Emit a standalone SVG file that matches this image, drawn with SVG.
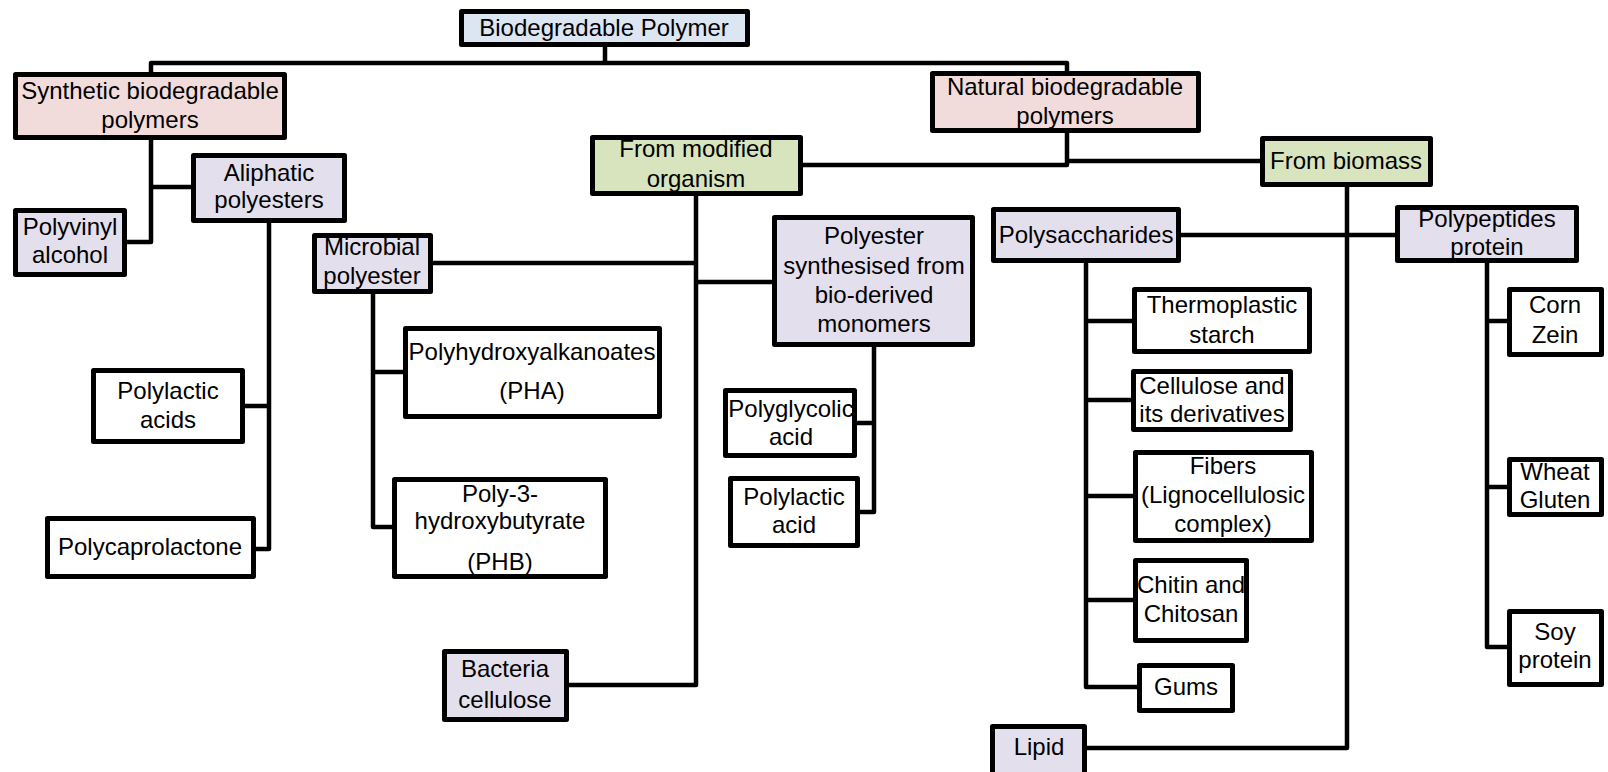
<svg xmlns="http://www.w3.org/2000/svg" width="1608" height="772" viewBox="0 0 1608 772">
<style>
.box{stroke:#000;stroke-width:5;stroke-linejoin:round}
.blue{fill:#dce6f2}.pink{fill:#f2dcdb}.green{fill:#d7e4bd}.lav{fill:#e4dfec}.white{fill:#fff}
text{font-family:"Liberation Sans",Arial,sans-serif;font-size:24px;fill:#000;text-anchor:middle}
.conn{fill:none;stroke:#000;stroke-width:4.5;stroke-linejoin:round;stroke-linecap:square}
</style>
<rect width="1608" height="772" fill="#fff"/>
<g id="connectors" class="conn">
<path d="M151,72 V63 H1067 V71 M605,47 V63"/>
<path d="M151,140 V242 H127 M151,187 H191"/>
<path d="M269,223 V549 H256 M269,406 H245"/>
<path d="M696,196 V685 H569 M696,263 H433 M696,282 H772"/>
<path d="M803,165 H1067 V133 M1067,161 H1260"/>
<path d="M373,294 V527 H392 M373,372 H403"/>
<path d="M874,347 V512 H860 M874,423 H857"/>
<path d="M1347,187 V748 H1087"/>
<path d="M1181,235 H1395"/>
<path d="M1086,263 V687 H1137 M1086,321 H1132 M1086,400 H1131 M1086,496 H1133 M1086,600 H1133"/>
<path d="M1487,263 V647 H1507 M1487,321 H1507 M1487,487 H1507"/>
</g>
<g id="n-biodegradable"><rect class="box blue" x="461.5" y="11.5" width="286" height="33"/><text x="604" y="36">Biodegradable Polymer</text></g>
<g id="n-synthetic"><rect class="box pink" x="15.5" y="74.5" width="269" height="63"/><text x="150" y="99">Synthetic biodegradable</text><text x="150" y="128">polymers</text></g>
<g id="n-natural"><rect class="box pink" x="932.5" y="73.5" width="266" height="57"/><text x="1065" y="95">Natural biodegradable</text><text x="1065" y="124">polymers</text></g>
<g id="n-modified"><rect class="box green" x="592.5" y="137.5" width="208" height="56"/><text x="696" y="157">From modified</text><text x="696" y="187">organism</text></g>
<g id="n-biomass"><rect class="box green" x="1262.5" y="138.5" width="168" height="46"/><text x="1346" y="169">From biomass</text></g>
<g id="n-aliphatic"><rect class="box lav" x="193.5" y="155.5" width="151" height="65"/><text x="269" y="181">Aliphatic</text><text x="269" y="208">polyesters</text></g>
<g id="n-polyvinyl"><rect class="box lav" x="15.5" y="210.5" width="109" height="64"/><text x="70" y="235">Polyvinyl</text><text x="70" y="263">alcohol</text></g>
<g id="n-microbial"><rect class="box lav" x="314.5" y="235.5" width="116" height="56"/><text x="372" y="255">Microbial</text><text x="372" y="284">polyester</text></g>
<g id="n-polyester-bio"><rect class="box lav" x="774.5" y="217.5" width="198" height="127"/><text x="874" y="244">Polyester</text><text x="874" y="274">synthesised from</text><text x="874" y="303">bio-derived</text><text x="874" y="332">monomers</text></g>
<g id="n-polysaccharides"><rect class="box lav" x="993.5" y="209.5" width="185" height="51"/><text x="1086" y="243">Polysaccharides</text></g>
<g id="n-polypeptides"><rect class="box lav" x="1397.5" y="207.5" width="179" height="53"/><text x="1487" y="227">Polypeptides</text><text x="1487" y="255">protein</text></g>
<g id="n-pha"><rect class="box white" x="405.5" y="328.5" width="254" height="88"/><text x="532" y="360">Polyhydroxyalkanoates</text><text x="532" y="399">(PHA)</text></g>
<g id="n-phb"><rect class="box white" x="394.5" y="479.5" width="211" height="97"/><text x="500" y="502">Poly-3-</text><text x="500" y="529">hydroxybutyrate</text><text x="500" y="570">(PHB)</text></g>
<g id="n-polylactic-acids"><rect class="box white" x="93.5" y="370.5" width="149" height="71"/><text x="168" y="399">Polylactic</text><text x="168" y="428">acids</text></g>
<g id="n-polycaprolactone"><rect class="box white" x="47.5" y="518.5" width="206" height="58"/><text x="150" y="555">Polycaprolactone</text></g>
<g id="n-polyglycolic"><rect class="box white" x="725.5" y="390.5" width="129" height="65"/><text x="791" y="417">Polyglycolic</text><text x="791" y="445">acid</text></g>
<g id="n-polylactic-acid"><rect class="box white" x="730.5" y="478.5" width="127" height="67"/><text x="794" y="505">Polylactic</text><text x="794" y="533">acid</text></g>
<g id="n-bacteria"><rect class="box lav" x="444.5" y="651.5" width="122" height="68"/><text x="505" y="677">Bacteria</text><text x="505" y="708">cellulose</text></g>
<g id="n-thermoplastic"><rect class="box white" x="1134.5" y="289.5" width="175" height="62"/><text x="1222" y="313">Thermoplastic</text><text x="1222" y="343">starch</text></g>
<g id="n-cellulose"><rect class="box white" x="1133.5" y="371.5" width="157" height="58"/><text x="1212" y="394">Cellulose and</text><text x="1212" y="422">its derivatives</text></g>
<g id="n-fibers"><rect class="box white" x="1135.5" y="452.5" width="176" height="88"/><text x="1223" y="474">Fibers</text><text x="1223" y="503">(Lignocellulosic</text><text x="1223" y="532">complex)</text></g>
<g id="n-chitin"><rect class="box white" x="1135.5" y="560.5" width="111" height="80"/><text x="1191" y="593">Chitin and</text><text x="1191" y="622">Chitosan</text></g>
<g id="n-gums"><rect class="box white" x="1139.5" y="665.5" width="93" height="45"/><text x="1186" y="695">Gums</text></g>
<g id="n-lipid"><rect class="box lav" x="992.5" y="726.5" width="92" height="60"/><text x="1039" y="755">Lipid</text></g>
<g id="n-corn"><rect class="box white" x="1509.5" y="289.5" width="92" height="65"/><text x="1555" y="313">Corn</text><text x="1555" y="343">Zein</text></g>
<g id="n-wheat"><rect class="box white" x="1509.5" y="459.5" width="92" height="55"/><text x="1555" y="480">Wheat</text><text x="1555" y="508">Gluten</text></g>
<g id="n-soy"><rect class="box white" x="1509.5" y="611.5" width="92" height="73"/><text x="1555" y="640">Soy</text><text x="1555" y="668">protein</text></g>
</svg>
